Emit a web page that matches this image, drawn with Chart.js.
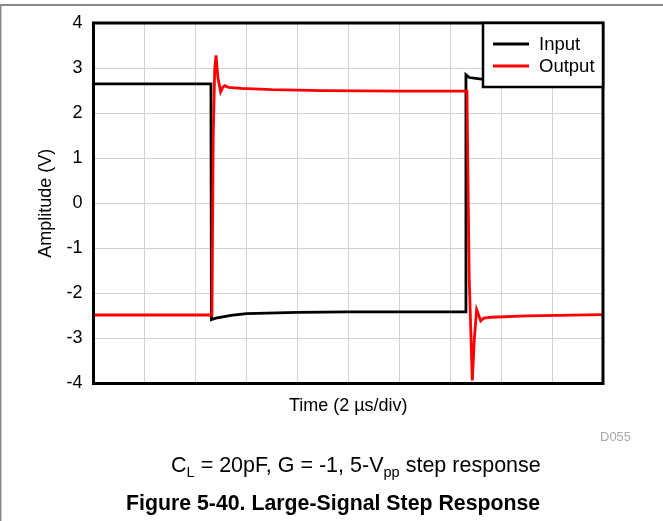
<!DOCTYPE html>
<html>
<head>
<meta charset="utf-8">
<title>Large-Signal Step Response</title>
<script src="https://cdn.jsdelivr.net/npm/chart.js@4.4.0/dist/chart.umd.min.js"></script>
<style>
    html, body { margin: 0; padding: 0; background: #fff; }
    #wrap { width: 663px; height: 521px; }
</style>
</head>
<body>
<div id="wrap"><canvas id="stepChart" width="663" height="521"></canvas></div>
<script>
// Time in microseconds (10 divisions of 2 us), amplitude in volts
const inputTime  = [0, 4.61, 4.63, 4.80, 5.40, 6.00, 8.00, 10.0, 14.60, 14.62, 14.75, 15.30, 20.0];
const inputVolts = [2.65, 2.65, -2.58, -2.55, -2.49, -2.45, -2.42, -2.41, -2.41, 2.85, 2.79, 2.75, 2.70];

const outputTime  = [0, 4.65, 4.70, 4.76, 4.81, 4.88, 4.99, 5.08, 5.16, 5.30, 5.80, 7.00, 9.00, 12.0,
                     14.66, 14.70, 14.75, 14.87, 14.95, 15.04, 15.12, 15.20, 15.32, 15.60, 17.0, 20.0];
const outputVolts = [-2.48, -2.48, 1.50, 3.00, 3.28, 2.80, 2.47, 2.58, 2.61, 2.57, 2.55, 2.52, 2.50, 2.49,
                     2.49, 0.50, -1.70, -3.93, -3.00, -2.36, -2.48, -2.61, -2.55, -2.53, -2.50, -2.47];

const seriesNames = ['Input', 'Output'];
const seriesColors = ['#000000', '#ff0000'];

const xTicks = [0, 2, 4, 6, 8, 10, 12, 14, 16, 18, 20];
const yTicks = [-4, -3, -2, -1, 0, 1, 2, 3, 4];

const FONT = '"Liberation Sans", Arial, sans-serif';

function toPoints(xs, ys) {
    return xs.map((x, i) => ({ x: x, y: ys[i] }));
}

/**
 * Draw a line of text with subscript runs
 */
function drawRuns(ctx, x, y, runs, size) {
    runs.forEach(run => {
        const s = run.sub ? size * 0.68 : size;
        ctx.font = s + 'px ' + FONT;
        ctx.fillText(run.t, x, run.sub ? y + size * 0.22 : y);
        x += ctx.measureText(run.t).width;
    });
}

// Frame, legend and figure captions
const figureDecor = {
    id: 'figureDecor',
    beforeDraw(chart) {
        const ctx = chart.ctx;
        ctx.save();
        ctx.fillStyle = '#fff';
        ctx.fillRect(0, 0, chart.width, chart.height);
        ctx.fillStyle = '#8a8a8a';
        ctx.fillRect(0, 4, chart.width, 2);
        ctx.fillRect(0, 4, 1.5, chart.height - 4);
        ctx.restore();
    },
    afterDraw(chart) {
        const ctx = chart.ctx;
        const a = chart.chartArea;
        ctx.save();

        // plot box
        ctx.strokeStyle = '#000';
        ctx.lineWidth = 3;
        ctx.strokeRect(a.left, a.top, a.right - a.left, a.bottom - a.top);

        // legend
        const lx = 483, lw = a.right - 483, lh = 64;
        ctx.fillStyle = '#fff';
        ctx.fillRect(lx, a.top, lw, lh);
        ctx.lineWidth = 2.5;
        ctx.strokeRect(lx, a.top, lw, lh);
        ctx.font = '18.5px ' + FONT;
        ctx.textBaseline = 'middle';
        ctx.textAlign = 'left';
        seriesNames.forEach((name, i) => {
            const y = a.top + 21 + i * 22;
            ctx.strokeStyle = seriesColors[i];
            ctx.lineWidth = 3;
            ctx.beginPath();
            ctx.moveTo(493, y);
            ctx.lineTo(529, y);
            ctx.stroke();
            ctx.fillStyle = '#000';
            ctx.fillText(name, 539, y + 1);
        });

        // figure id
        ctx.textBaseline = 'alphabetic';
        ctx.fillStyle = '#a8a8a8';
        ctx.font = '13px ' + FONT;
        ctx.fillText('D055', 600, 441);

        // condition line
        ctx.fillStyle = '#000';
        drawRuns(ctx, 171, 472, [
            { t: 'C' }, { t: 'L', sub: true },
            { t: ' = 20pF, G = -1, 5-V' }, { t: 'pp', sub: true },
            { t: ' step response' }
        ], 21.5);

        // caption
        ctx.font = 'bold 21.3px ' + FONT;
        ctx.fillText('Figure 5-40. Large-Signal Step Response', 126, 510);
        ctx.restore();
    }
};

const ctx = document.getElementById('stepChart');
const stepChart = new Chart(ctx, {
    type: 'scatter',
    data: {
        datasets: [{
            label: seriesNames[0],
            data: toPoints(inputTime, inputVolts),
            borderColor: seriesColors[0],
            borderWidth: 2.8,
            showLine: true,
            pointRadius: 0,
            tension: 0,
            order: 1
        }, {
            label: seriesNames[1],
            data: toPoints(outputTime, outputVolts),
            borderColor: seriesColors[1],
            borderWidth: 2.8,
            showLine: true,
            pointRadius: 0,
            tension: 0,
            order: 0
        }]
    },
    options: {
        responsive: false,
        animation: false,
        events: [],
        layout: {
            padding: { left: 0, right: 60, top: 23, bottom: 97.5 }
        },
        plugins: {
            legend: { display: false },
            tooltip: { enabled: false }
        },
        scales: {
            x: {
                type: 'linear',
                min: xTicks[0],
                max: xTicks[xTicks.length - 1],
                afterBuildTicks: scale => { scale.ticks = xTicks.map(v => ({ value: v })); },
                afterFit: scale => { scale.height = 40; },
                ticks: { display: false },
                grid: { color: '#d2d2d2', lineWidth: 1, drawTicks: false },
                border: { display: false },
                title: {
                    display: true,
                    text: 'Time (2 µs/div)',
                    color: '#000',
                    font: { family: FONT, size: 18 },
                    padding: { top: 0, bottom: 7 }
                }
            },
            y: {
                min: yTicks[0],
                max: yTicks[yTicks.length - 1],
                afterBuildTicks: scale => { scale.ticks = yTicks.map(v => ({ value: v })); },
                afterFit: scale => { scale.width = 93.5; },
                ticks: {
                    color: '#000',
                    padding: 11,
                    font: { family: FONT, size: 18 }
                },
                grid: { color: '#d2d2d2', lineWidth: 1, drawTicks: false },
                border: { display: false },
                title: {
                    display: true,
                    text: 'Amplitude (V)',
                    color: '#000',
                    font: { family: FONT, size: 18 },
                    padding: { top: 35, bottom: 0 }
                }
            }
        }
    },
    plugins: [figureDecor]
});
</script>
</body>
</html>
